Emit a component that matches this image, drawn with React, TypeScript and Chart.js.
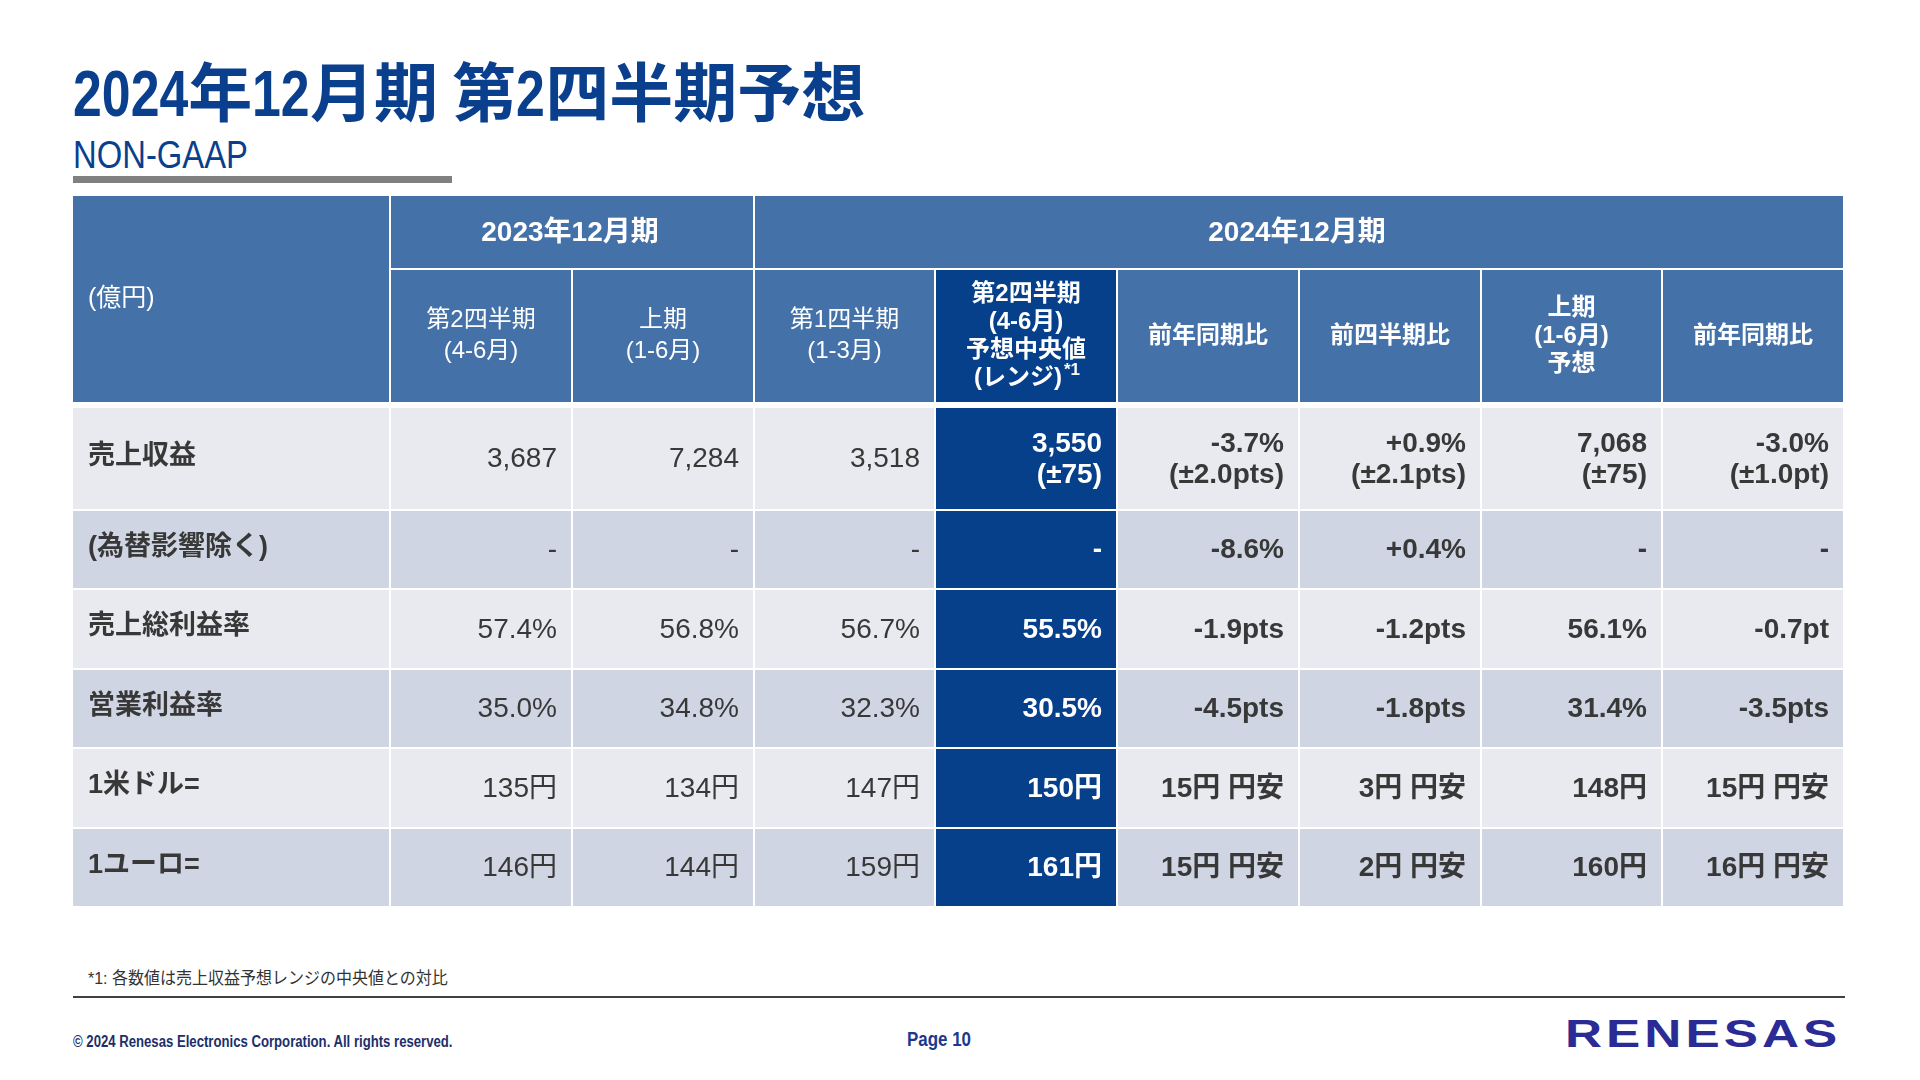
import React, { useEffect, useRef } from "react";
import { Chart, registerables } from "chart.js";

Chart.register(...registerables);

// ---------------- data ----------------
const TITLE = "2024年12月期 第2四半期予想";
const SUBTITLE = "NON-GAAP";
const UNIT_LABEL = "(億円)";
const PERIOD_GROUPS = ["2023年12月期", "2024年12月期"];
const PERIOD_GROUP_SPANS = [2, 6];
const COLUMN_HEADERS = [
  ["第2四半期", "(4-6月)"],
  ["上期", "(1-6月)"],
  ["第1四半期", "(1-3月)"],
  ["第2四半期", "(4-6月)", "予想中央値", "(レンジ)*1"],
  ["前年同期比"],
  ["前四半期比"],
  ["上期", "(1-6月)", "予想"],
  ["前年同期比"],
];
const ROW_LABELS = ["売上収益", "(為替影響除く)", "売上総利益率", "営業利益率", "1米ドル=", "1ユーロ="];
const REVENUE = ["3,687", "7,284", "3,518", "3,550\n(±75)", "-3.7%\n(±2.0pts)", "+0.9%\n(±2.1pts)", "7,068\n(±75)", "-3.0%\n(±1.0pt)"];
const REVENUE_EX_FX = ["-", "-", "-", "-", "-8.6%", "+0.4%", "-", "-"];
const GROSS_MARGIN = ["57.4%", "56.8%", "56.7%", "55.5%", "-1.9pts", "-1.2pts", "56.1%", "-0.7pt"];
const OPERATING_MARGIN = ["35.0%", "34.8%", "32.3%", "30.5%", "-4.5pts", "-1.8pts", "31.4%", "-3.5pts"];
const USD_RATE = ["135円", "134円", "147円", "150円", "15円 円安", "3円 円安", "148円", "15円 円安"];
const EUR_RATE = ["146円", "144円", "159円", "161円", "15円 円安", "2円 円安", "160円", "16円 円安"];
const ROW_VALUES = [REVENUE, REVENUE_EX_FX, GROSS_MARGIN, OPERATING_MARGIN, USD_RATE, EUR_RATE];
const HIGHLIGHT_COLUMN = 3;
const BOLD_COLUMNS = [false, false, false, true, true, true, true, true];
const FOOTNOTE = "*1: 各数値は売上収益予想レンジの中央値との対比";
const COPYRIGHT = "© 2024 Renesas Electronics Corporation. All rights reserved.";
const PAGE_LABEL = "Page 10";
const LOGO_TEXT = "RENESAS";

// ---------------- layout / style ----------------
const LABEL_COL_WEIGHT = 1.75;
const ROW_WEIGHTS = [0.93, 1.74, 1.3, 1, 1, 1, 1, 1];
const GAP = 2;
const HEADER_EXTRA_GAP = 4;
const HEADER_BLUE = "#4571a9";
const HIGHLIGHT_BLUE = "#063f8a";
const ROW_LIGHT = "#e9eaef";
const ROW_DARK = "#cfd5e3";
const TEXT_DARK = "#383838";
const TITLE_BLUE = "#0a3f8e";
const FONT = '"Liberation Sans", Arial, "Noto Sans CJK JP", sans-serif';

const CANVAS_W = 1772;
const CANVAS_H = 712;

function cumulative(weights: number[]): number[] {
  const out = [0];
  weights.forEach((w) => out.push(out[out.length - 1] + w));
  return out;
}
const COL_EDGES = cumulative([LABEL_COL_WEIGHT, ...COLUMN_HEADERS.map(() => 1)]);
const ROW_EDGES = cumulative(ROW_WEIGHTS);

let measureCtx: CanvasRenderingContext2D | null = null;
function textWidth(text: string, font: string): number {
  if (!measureCtx) measureCtx = document.createElement("canvas").getContext("2d");
  if (!measureCtx) return text.length * 10;
  measureCtx.font = font;
  return measureCtx.measureText(text).width;
}

const tablePlugin = {
  id: "renesasTable",
  afterDraw(chart: any) {
    const ctx: CanvasRenderingContext2D = chart.ctx;
    const xs = chart.scales.x;
    const ys = chart.scales.y;
    const X = (v: number) => Math.round(xs.getPixelForValue(v));
    const Y = (v: number) => Math.round(ys.getPixelForValue(v));
    const cell = (c0: number, c1: number, r0: number, r1: number, fill: string, extra = 0) => {
      const x0 = X(COL_EDGES[c0]);
      const x1 = X(COL_EDGES[c1]) - GAP;
      const y0 = Y(ROW_EDGES[r0]);
      const y1 = Y(ROW_EDGES[r1]) - GAP - extra;
      ctx.fillStyle = fill;
      ctx.fillRect(x0, y0, x1 - x0, y1 - y0);
      return { x0, x1, y0, y1, cx: (x0 + x1) / 2, cy: (y0 + y1) / 2 };
    };
    const lines = (
      list: string[],
      x: number,
      cy: number,
      align: CanvasTextAlign,
      font: string,
      color: string,
      lh: number,
      supFont?: string
    ) => {
      ctx.save();
      ctx.fillStyle = color;
      ctx.textBaseline = "middle";
      const top = cy - ((list.length - 1) * lh) / 2;
      list.forEach((line, i) => {
        const y = top + i * lh;
        const m = line.match(/^(.*)(\*1)$/);
        if (m && supFont) {
          ctx.font = font;
          const w1 = ctx.measureText(m[1]).width;
          ctx.font = supFont;
          const w2 = ctx.measureText(m[2]).width;
          let start = x;
          if (align === "center") start = x - (w1 + w2) / 2;
          else if (align === "right") start = x - w1 - w2;
          ctx.textAlign = "left";
          ctx.font = font;
          ctx.fillText(m[1], start, y);
          ctx.font = supFont;
          ctx.fillText(m[2], start + w1 + 2, y - 8);
        } else {
          ctx.font = font;
          ctx.textAlign = align;
          ctx.fillText(line, x, y);
        }
      });
      ctx.restore();
    };

    // header: unit label cell
    const unit = cell(0, 1, 0, 2, HEADER_BLUE, HEADER_EXTRA_GAP);
    lines([UNIT_LABEL], unit.x0 + 15, unit.cy, "left", `25px ${FONT}`, "#ffffff", 30);

    // header: period groups
    let c = 1;
    PERIOD_GROUPS.forEach((g, i) => {
      const span = PERIOD_GROUP_SPANS[i];
      const r = cell(c, c + span, 0, 1, HEADER_BLUE);
      lines([g], r.cx - 2, r.cy + 1, "center", `bold 28px ${FONT}`, "#ffffff", 30);
      c += span;
    });

    // header: column headers
    COLUMN_HEADERS.forEach((h, i) => {
      const fill = i === HIGHLIGHT_COLUMN ? HIGHLIGHT_BLUE : HEADER_BLUE;
      const r = cell(1 + i, 2 + i, 1, 2, fill, HEADER_EXTRA_GAP);
      const bold = BOLD_COLUMNS[i];
      lines(
        h,
        r.cx,
        r.cy,
        "center",
        `${bold ? "bold " : ""}24px ${FONT}`,
        "#ffffff",
        bold ? 28 : 31,
        `bold 17px ${FONT}`
      );
    });

    // body rows
    ROW_LABELS.forEach((label, ri) => {
      const bg = ri % 2 === 0 ? ROW_LIGHT : ROW_DARK;
      const lr = cell(0, 1, 2 + ri, 3 + ri, bg);
      lines([label], lr.x0 + 15, lr.cy - 2, "left", `bold 27px ${FONT}`, TEXT_DARK, 30);
      ROW_VALUES[ri].forEach((v, ci) => {
        const hi = ci === HIGHLIGHT_COLUMN;
        const r = cell(1 + ci, 2 + ci, 2 + ri, 3 + ri, hi ? HIGHLIGHT_BLUE : bg);
        lines(
          v.split("\n"),
          r.x1 - 14,
          r.cy + 1,
          "right",
          `${BOLD_COLUMNS[ci] ? "bold " : ""}28px ${FONT}`,
          hi ? "#ffffff" : TEXT_DARK,
          31
        );
      });
    });
  },
};

function TableChart() {
  const ref = useRef<HTMLCanvasElement | null>(null);
  useEffect(() => {
    if (!ref.current) return;
    const chart = new Chart(ref.current, {
      type: "scatter",
      data: { datasets: [] },
      options: {
        animation: false,
        responsive: false,
        events: [],
        layout: { padding: 0 },
        scales: {
          x: { type: "linear", min: 0, max: COL_EDGES[COL_EDGES.length - 1], display: false },
          y: { type: "linear", min: 0, max: ROW_EDGES[ROW_EDGES.length - 1], reverse: true, display: false },
        },
        plugins: { legend: { display: false }, tooltip: { enabled: false } },
      },
      plugins: [tablePlugin as any],
    } as any);
    return () => chart.destroy();
  }, []);
  return (
    <canvas
      ref={ref}
      width={CANVAS_W}
      height={CANVAS_H}
      style={{ position: "absolute", left: 73, top: 196, width: CANVAS_W, height: CANVAS_H }}
    />
  );
}

// text whose Latin runs are horizontally condensed (narrow face substitute)
function CondensedTitle({ text, font, scale }: { text: string; font: string; scale: number }) {
  const runs = text.match(/[\x20-\x7e]+|[^\x20-\x7e]+/g) || [];
  return (
    <>
      {runs.map((r, i) =>
        /^[\x20-\x7e]/.test(r) ? (
          <span key={i} style={{ display: "inline-block", width: textWidth(r, font) * scale, whiteSpace: "pre" }}>
            <span style={{ display: "inline-block", transform: `scaleX(${scale})`, transformOrigin: "left center", whiteSpace: "pre" }}>{r}</span>
          </span>
        ) : (
          <span key={i}>{r}</span>
        )
      )}
    </>
  );
}

// text squeezed horizontally to a target width
function FitText({ text, font, width, left, top, color }: { text: string; font: string; width: number; left: number; top: number; color: string }) {
  const natural = textWidth(text, font);
  const s = width / natural;
  return (
    <div style={{ position: "absolute", left, top, font, color, whiteSpace: "nowrap" }}>
      <span style={{ display: "inline-block", transform: `scaleX(${s})`, transformOrigin: "left center" }}>{text}</span>
    </div>
  );
}

export default function App() {
  const titleFont = `bold 64px ${FONT}`;
  return (
    <div style={{ position: "absolute", left: 0, top: 0, width: 1920, height: 1080, background: "#ffffff", overflow: "hidden" }}>
      <div style={{ position: "absolute", left: 73, top: 62, font: titleFont, lineHeight: "64px", color: TITLE_BLUE, whiteSpace: "nowrap" }}>
        <CondensedTitle text={TITLE} font={titleFont} scale={0.81} />
      </div>
      <FitText text={SUBTITLE} font={`39px/39px ${FONT}`} width={175} left={73} top={135} color={TITLE_BLUE} />
      <div style={{ position: "absolute", left: 73, top: 176, width: 379, height: 7, background: "#808080" }} />
      <TableChart />
      <FitText text={FOOTNOTE} font={`17px/17px ${FONT}`} width={360} left={88} top={970} color="#333333" />
      <div style={{ position: "absolute", left: 73, top: 996, width: 1772, height: 2, background: "#404040" }} />
      <FitText text={COPYRIGHT} font={`bold 16px/16px ${FONT}`} width={380} left={73} top={1034} color="#1c2f6b" />
      <FitText text={PAGE_LABEL} font={`bold 20px/20px ${FONT}`} width={64} left={907} top={1029} color="#1b3a8c" />
      <div
        style={{
          position: "absolute",
          left: 1565,
          top: 1015,
          font: `bold 38px/38px ${FONT}`,
          color: "#2b2b96",
          letterSpacing: 3,
          transform: "scaleX(1.35)",
          transformOrigin: "left center",
          whiteSpace: "nowrap",
        }}
      >
        {LOGO_TEXT}
      </div>
    </div>
  );
}
